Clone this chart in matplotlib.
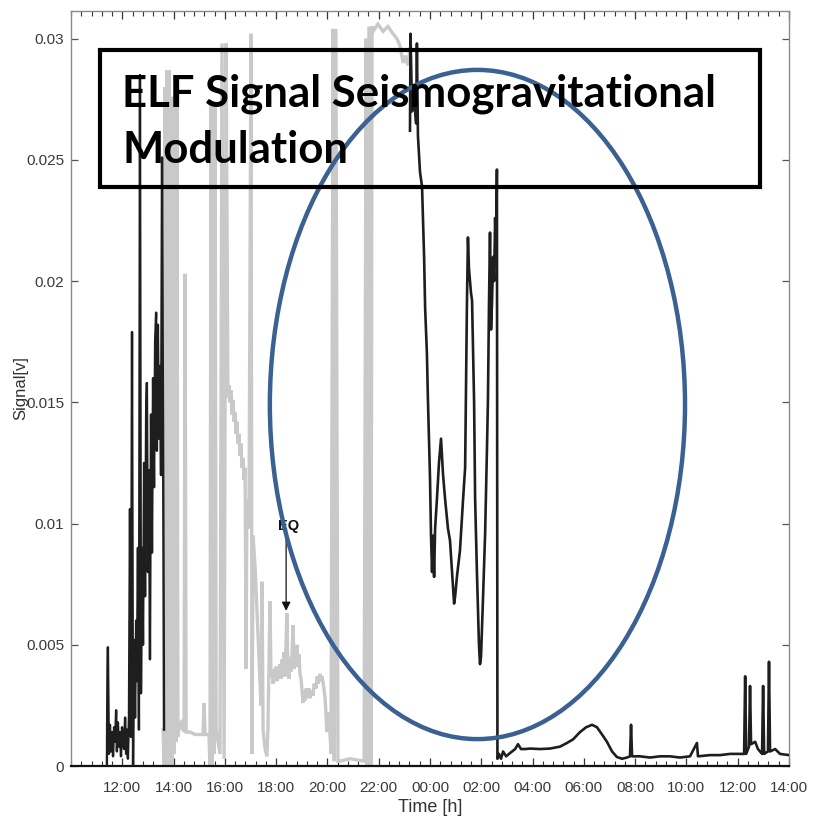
import matplotlib
matplotlib.use("Agg")
import matplotlib.pyplot as plt
from matplotlib.patches import Ellipse, Rectangle
from matplotlib.ticker import MultipleLocator, FixedLocator, FuncFormatter

# Time axis: hours counted from 10:00 of the first day (values > 24 are the next day)
calm_t1 = [11.40, 11.42, 11.44, 11.48, 11.52, 11.56, 11.60, 11.64, 11.68, 11.72,
           11.76, 11.79, 11.83, 11.87, 11.91, 11.95, 11.99, 12.03, 12.07, 12.11,
           12.15, 12.18, 12.22, 12.26, 12.30, 12.34, 12.38, 12.42, 12.46, 12.50,
           12.54, 12.57, 12.61, 12.65, 12.69, 12.73, 12.77, 12.81, 12.85, 12.89,
           12.93, 12.96, 13.00, 13.04, 13.08, 13.12, 13.16, 13.20, 13.24, 13.28,
           13.32, 13.35, 13.39, 13.43, 13.47, 13.51, 13.55, 13.59, 13.63]
calm_v1 = [0.0, 0.0037, 0.0049, 0.0005, 0.0017, 0.0006, 0.0014, 0.0004, 0.0016, 0.0010,
           0.0023, 0.0006, 0.0018, 0.0008, 0.0014, 0.0004, 0.0016, 0.0010, 0.0007, 0.0020,
           0.0005, 0.0015, 0.0003, 0.0020, 0.0106, 0.0012, 0.0179, 0.0, 0.0052, 0.0020,
           0.0060, 0.0035, 0.0090, 0.0015, 0.0285, 0.0030, 0.0090, 0.0050, 0.0125, 0.0070,
           0.0145, 0.0158, 0.0080, 0.0122, 0.0044, 0.0145, 0.0088, 0.0160, 0.0115, 0.0175,
           0.0187, 0.0130, 0.0182, 0.0135, 0.0165, 0.0120, 0.0251, 0.0140, 0.0015]

calm_t2 = [23.22, 23.24, 23.30, 23.38, 23.46, 23.49, 23.53, 23.61, 23.69, 23.77,
           23.81, 23.88, 23.92, 24.00, 24.04, 24.08, 24.12, 24.16, 24.20, 24.27,
           24.35, 24.43, 24.51, 24.59, 24.70, 24.78, 24.86, 24.94, 24.98, 25.05,
           25.17, 25.29, 25.37, 25.44, 25.48, 25.52, 25.60, 25.64, 25.72, 25.76,
           25.83, 25.91, 25.95, 25.99, 26.07, 26.15, 26.22, 26.26, 26.30, 26.34,
           26.38, 26.42, 26.46, 26.50, 26.54, 26.58, 26.61, 26.63, 26.69, 26.77,
           26.85, 26.97, 27.08, 27.20, 27.32, 27.43, 27.55, 27.71, 27.90, 28.29,
           28.68, 29.07, 29.34, 29.58, 29.85, 30.09, 30.32, 30.51, 30.71, 30.90,
           31.10, 31.29, 31.49, 31.68, 31.80, 31.84, 31.88, 32.19, 32.58, 32.97,
           33.36, 33.75, 34.14, 34.41, 34.45, 34.92, 35.31, 35.70, 36.25, 36.29,
           36.33, 36.44, 36.48, 36.52, 36.68, 36.79, 36.95, 36.99, 37.03, 37.18,
           37.22, 37.26, 37.46, 37.65, 38.00]
calm_v2 = [0.0262, 0.0302, 0.0270, 0.0275, 0.0265, 0.0298, 0.0260, 0.0245, 0.0239, 0.0210,
           0.0189, 0.0170, 0.0151, 0.0119, 0.0095, 0.0080, 0.0095, 0.0078, 0.0098, 0.0110,
           0.0125, 0.0135, 0.0120, 0.0110, 0.0098, 0.0093, 0.0080, 0.0067, 0.0070, 0.0078,
           0.0089, 0.0110, 0.0123, 0.0190, 0.0218, 0.0205, 0.0195, 0.0192, 0.0150, 0.0110,
           0.0080, 0.0050, 0.0042, 0.0045, 0.0070, 0.0096, 0.0130, 0.0151, 0.0190, 0.0220,
           0.0180, 0.0192, 0.0210, 0.0200, 0.0226, 0.0210, 0.0246, 0.0003, 0.0005, 0.0003,
           0.0006, 0.0004, 0.0005, 0.0006, 0.0007, 0.0009, 0.0007, 0.0007, 0.00072, 0.0007,
           0.00072, 0.0008, 0.00095, 0.0011, 0.0014, 0.0016, 0.0017, 0.0016, 0.0013, 0.0010,
           0.0006, 0.00037, 0.0003, 0.00035, 0.0004, 0.0017, 0.0004, 0.0004, 0.00035, 0.0004,
           0.0004, 0.00035, 0.0004, 0.00095, 0.0004, 0.00045, 0.00045, 0.0005, 0.0005, 0.0037,
           0.0005, 0.0008, 0.0033, 0.0009, 0.0010, 0.0007, 0.0005, 0.0033, 0.0005, 0.0006,
           0.0043, 0.0006, 0.0007, 0.0005, 0.00045]

# Disturbed interval (drawn in light grey)
noisy_t = [13.59, 13.63, 13.67, 13.71, 13.74, 13.78, 13.82, 13.86, 13.90, 13.94,
           13.98, 14.02, 14.06, 14.10, 14.13, 14.17, 14.21, 14.25, 14.33, 14.41,
           14.45, 14.49, 14.64, 14.84, 15.03, 15.15, 15.19, 15.23, 15.38, 15.42,
           15.46, 15.50, 15.54, 15.58, 15.62, 15.66, 15.69, 15.81, 15.89, 15.97,
           16.05, 16.12, 16.16, 16.20, 16.24, 16.28, 16.32, 16.36, 16.40, 16.44,
           16.47, 16.51, 16.55, 16.59, 16.63, 16.67, 16.71, 16.75, 16.79, 16.83,
           16.86, 16.94, 17.02, 17.06, 17.10, 17.18, 17.25, 17.33, 17.41, 17.45,
           17.49, 17.57, 17.64, 17.68, 17.76, 17.80, 17.84, 17.88, 17.92, 17.96,
           18.00, 18.04, 18.08, 18.12, 18.15, 18.19, 18.23, 18.27, 18.31, 18.35,
           18.42, 18.46, 18.50, 18.54, 18.58, 18.62, 18.66, 18.70, 18.74, 18.78,
           18.81, 18.85, 18.89, 18.93, 18.97, 19.01, 19.05, 19.09, 19.13, 19.17,
           19.24, 19.28, 19.32, 19.40, 19.44, 19.48, 19.56, 19.60, 19.64, 19.71,
           19.75, 19.79, 19.85, 19.91, 19.98, 20.06, 20.14, 20.22, 20.26, 20.33,
           20.41, 20.49, 20.88, 21.43, 21.51, 21.54, 21.62, 21.70, 21.74, 21.78,
           21.97, 22.17, 22.36, 22.56, 22.71, 22.83, 22.95, 23.03, 23.14, 23.22]
noisy_v = [0.0015, 0.0, 0.0280, 0.0005, 0.0287, 0.0, 0.0287, 0.0010, 0.0250, 0.0,
           0.0276, 0.0005, 0.0276, 0.0010, 0.0276, 0.0012, 0.0016, 0.0015, 0.0019, 0.0014,
           0.0203, 0.0014, 0.0014, 0.0013, 0.0013, 0.0013, 0.0026, 0.0013, 0.0013, 0.0,
           0.0273, 0.0, 0.0273, 0.0005, 0.0273, 0.0015, 0.0013, 0.0005, 0.0298, 0.0003,
           0.0298, 0.0152, 0.0157, 0.0150, 0.0155, 0.0145, 0.0151, 0.0142, 0.0146, 0.0137,
           0.0142, 0.0133, 0.0137, 0.0128, 0.0133, 0.0123, 0.0127, 0.0118, 0.0123, 0.0040,
           0.0110, 0.0098, 0.0302, 0.0005, 0.0095, 0.0082, 0.0065, 0.0045, 0.0025, 0.0076,
           0.0015, 0.0007, 0.0004, 0.0015, 0.0068, 0.0037, 0.0038, 0.0034, 0.0040, 0.0035,
           0.0041, 0.0035, 0.0040, 0.0036, 0.0042, 0.0036, 0.0044, 0.0037, 0.0047, 0.0037,
           0.0063, 0.0040, 0.0036, 0.0045, 0.0039, 0.0046, 0.0058, 0.0040, 0.0046, 0.0041,
           0.0050, 0.0041, 0.0046, 0.0038, 0.0036, 0.0031, 0.0026, 0.0031, 0.0027, 0.0032,
           0.0028, 0.0032, 0.0028, 0.0031, 0.0029, 0.0034, 0.0032, 0.0037, 0.0034, 0.0038,
           0.0035, 0.0037, 0.0033, 0.0028, 0.0014, 0.0022, 0.0005, 0.0304, 0.0002, 0.0304,
           0.0002, 0.0002, 0.0003, 0.0002, 0.0300, 0.0, 0.0305, 0.0, 0.0305, 0.0303,
           0.0306, 0.0303, 0.0305, 0.0302, 0.0300, 0.0297, 0.0290, 0.0293, 0.0289, 0.0296]

x_ticks = [12, 14, 16, 18, 20, 22, 24, 26, 28, 30, 32, 34, 36, 38]
y_ticks = [0, 0.005, 0.01, 0.015, 0.02, 0.025, 0.03]
y_tick_labels = ["0", "0.005", "0.01", "0.015", "0.02", "0.025", "0.03"]

# Earthquake marker and highlighted modulation window
eq_time, eq_label_val, eq_tip_val = 18.39, 0.0096, 0.0064
window_center = (25.85, 0.01491)
window_size = (16.19, 0.0276)

tick_font = ["Liberation Sans Narrow", "Liberation Sans", "DejaVu Sans"]

fig = plt.figure(figsize=(8.15, 8.32), dpi=100)
ax = fig.add_axes([0.0871, 0.0793, 0.9681 - 0.0871, 0.9868 - 0.0793])

ax.plot(noisy_t, noisy_v, color="#c9c9c9", lw=2.4, solid_joinstyle="miter", zorder=2)
ax.plot(calm_t1, calm_v1, color="#1e1e1e", lw=1.7, zorder=3)
ax.plot(calm_t2, calm_v2, color="#1e1e1e", lw=1.9, zorder=3)

ax.set_xlim(10, 38)
ax.set_ylim(0, 0.03114)

ax.xaxis.set_major_locator(FixedLocator(x_ticks))
ax.xaxis.set_minor_locator(MultipleLocator(0.4))
ax.xaxis.set_major_formatter(FuncFormatter(lambda h, pos: f"{int(round(h)) % 24:02d}:00"))
ax.set_yticks(y_ticks)
ax.set_yticklabels(y_tick_labels)

ax.tick_params(axis="x", which="major", direction="in", length=6, width=0.9,
               top=True, bottom=True, color="#333333", pad=11,
               labelsize=11, labelcolor="#3a3a3a")
ax.tick_params(axis="x", which="minor", direction="in", length=3.5, width=0.8,
               top=True, bottom=True, color="#333333")
ax.tick_params(axis="y", which="major", direction="in", length=5, width=0.9,
               left=True, right=True, color="#555555", pad=5,
               labelsize=11, labelcolor="#3a3a3a")
for lab in ax.get_xticklabels() + ax.get_yticklabels():
    lab.set_family(tick_font)

for side in ("left", "right", "top"):
    ax.spines[side].set_color("#8a8a8a")
    ax.spines[side].set_linewidth(1.0)
ax.spines["bottom"].set_color("#111111")
ax.spines["bottom"].set_linewidth(1.6)

ax.set_xlabel("Time [h]", family=tick_font, fontsize=13, color="#333333", labelpad=3)
ax.set_ylabel("Signal[v]", family=tick_font, fontsize=12, color="#333333", labelpad=-2)

# EQ annotation
ax.annotate("", xy=(eq_time, eq_tip_val), xytext=(eq_time, eq_label_val),
            arrowprops=dict(arrowstyle="-|>", color="#111111", lw=0.9,
                            mutation_scale=13, shrinkA=0, shrinkB=0), zorder=4)
ax.text(eq_time + 0.1, eq_label_val + 0.00003, "EQ", ha="center", va="bottom",
        fontsize=10.5, fontweight="bold", family=["Liberation Sans", "DejaVu Sans"],
        color="#111111", zorder=4)

# Modulation window
ax.add_patch(Ellipse(window_center, window_size[0], window_size[1], fill=False,
                     edgecolor="#3a6192", lw=3.2, zorder=5))

# Title box
fig.patches.append(Rectangle((0.1227, 0.7752), 0.8098, 0.1647, transform=fig.transFigure,
                             fill=False, edgecolor="black", lw=3.0, zorder=6))
title_kw = dict(fontsize=31.5, fontweight="bold", family=["Lato", "DejaVu Sans"],
                color="black", va="baseline", ha="left", zorder=7)
fig.text(0.1497, 0.8714, "ELF Signal Seismogravitational", **title_kw)
fig.text(0.1497, 0.8040, "Modulation", **title_kw)

fig.savefig("out.png", dpi=100)
